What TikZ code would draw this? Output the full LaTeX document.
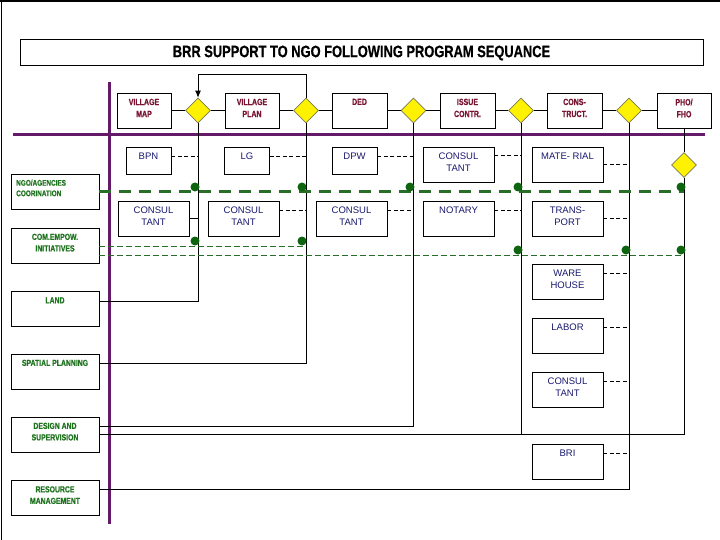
\documentclass[tikz,border=0pt]{standalone}
\usepackage{fontspec}
\setmainfont{Liberation Sans}
\newfontfamily\condfont[FakeStretch=0.78,FakeBold=0.6]{Liberation Sans Bold}
\usetikzlibrary{shapes.geometric,arrows.meta}
\definecolor{cMaroon}{RGB}{120,20,50}
\definecolor{cNavy}{RGB}{25,25,110}
\definecolor{cGreen}{RGB}{30,115,30}
\definecolor{cGLine}{RGB}{40,110,40}
\definecolor{cDot}{RGB}{15,100,15}
\definecolor{cPurple}{RGB}{100,25,105}
\definecolor{cDia}{RGB}{120,120,90}
\newcommand\boxlabel[4][-5.5pt]{\node[#3,anchor=north] at ([yshift=#1]#2.north) {#4};}
\newcommand\hlink[4]{\path ([yshift=#3]#2) coordinate (tmpA);\draw[#1] (tmpA) -- (tmpA -| #4);}
\begin{document}
\begin{tikzpicture}[x=1pt,y=-1pt,
  box/.style 2 args={draw,line width=.9pt,fill=white,inner sep=0pt,minimum width=#1pt,minimum height=#2pt},
  dia/.style={diamond,draw=cDia,fill=yellow,line width=.6pt,minimum width=25pt,minimum height=25pt,inner sep=0pt},
  mtxt/.style={font=\condfont\fontsize{9}{12}\selectfont,text=cMaroon,align=center,inner sep=.5pt},
  btxt/.style={font=\fontsize{9.5}{12}\selectfont,text=cNavy,align=center,inner sep=.5pt},
  gtxt/.style={font=\condfont\fontsize{8.8}{11.5}\selectfont,text=cGreen,align=center,inner sep=.5pt},
  cl/.style={line width=.9pt},
  dl/.style={line width=.8pt,dash pattern=on 4pt off 2.5pt},
  gthick/.style={cGLine,line width=2.6pt,dash pattern=on 12pt off 8pt},
  gthin/.style={cGLine,line width=.8pt,dash pattern=on 6pt off 3pt},
  pline/.style={cPurple,line width=3pt},
  gdot/.style={cDot}]
\useasboundingbox (0,0) rectangle (720,540);
% frame
\draw[line width=1.5pt] (0,0.8) -- (720,0.8);
\draw[line width=1.5pt] (1.5,0) -- (1.5,540);
% title
\node[draw,line width=1pt,minimum width=683pt,minimum height=26pt,inner sep=0pt,
  font=\condfont\fontsize{16.5}{18}\selectfont] (title) at (361.5,53) {BRR SUPPORT TO NGO FOLLOWING PROGRAM SEQUANCE};
% purple axes
\draw[pline] (109,82) -- (109,524);
\draw[pline] (13,134.5) -- (705,134.5);
% top row
\node[box={54}{35}] (vmap) at (144,110.5) {};
\node[dia] (d1) at (198,110.5) {};
\node[box={54}{35}] (vplan) at (252,110.5) {};
\node[dia] (d2) at (306,110.5) {};
\node[box={55}{35}] (ded) at (359.5,110.5) {};
\node[dia] (d3) at (413.5,110.5) {};
\node[box={55}{35}] (issue) at (467.5,110.5) {};
\node[dia] (d4) at (521,110.5) {};
\node[box={55}{35}] (cons) at (574.5,110.5) {};
\node[dia] (d5) at (629,110.5) {};
\node[box={54}{35}] (pho) at (684,110.5) {};
\node[dia] (pd) at (684,165) {};
\boxlabel{vmap}{mtxt}{VILLAGE\\MAP}
\boxlabel{vplan}{mtxt}{VILLAGE\\PLAN}
\boxlabel{ded}{mtxt}{DED}
\boxlabel{issue}{mtxt}{ISSUE\\CONTR.}
\boxlabel{cons}{mtxt}{CONS-\\TRUCT.}
\boxlabel{pho}{mtxt}{PHO/\\FHO}
% second row
\node[box={45}{27}] (bpn) at (148.5,160.5) {};
\node[box={45}{27}] (lg) at (247,160.5) {};
\node[box={45}{27}] (dpw) at (354.5,160.5) {};
\node[box={71}{35}] (con4) at (458.5,164.5) {};
\node[box={71}{35}] (mat) at (567.5,164.5) {};
\boxlabel{bpn}{btxt}{BPN}
\boxlabel{lg}{btxt}{LG}
\boxlabel{dpw}{btxt}{DPW}
\boxlabel{con4}{btxt}{CONSUL\\TANT}
\boxlabel{mat}{btxt}{MATE- RIAL}
% third row
\node[box={71}{35}] (con1) at (153.5,218.5) {};
\node[box={71}{35}] (con2) at (243.5,218.5) {};
\node[box={71}{35}] (con3) at (351.5,218.5) {};
\node[box={71}{35}] (nota) at (458.5,218.5) {};
\node[box={71}{35}] (trans) at (567.5,218.5) {};
\boxlabel{con1}{btxt}{CONSUL\\TANT}
\boxlabel{con2}{btxt}{CONSUL\\TANT}
\boxlabel{con3}{btxt}{CONSUL\\TANT}
\boxlabel{nota}{btxt}{NOTARY}
\boxlabel{trans}{btxt}{TRANS-\\PORT}
% right column
\node[box={71}{35}] (ware) at (567.5,281.5) {};
\node[box={71}{35}] (labor) at (567.5,335.5) {};
\node[box={71}{35}] (con5) at (567.5,389.5) {};
\node[box={71}{35}] (bri) at (567.5,461.5) {};
\boxlabel{ware}{btxt}{WARE\\HOUSE}
\boxlabel{labor}{btxt}{LABOR}
\boxlabel{con5}{btxt}{CONSUL\\TANT}
\boxlabel{bri}{btxt}{BRI}
% left column
\node[box={88}{35}] (ngo) at (55,191.5) {};
\node[box={88}{35}] (com) at (55,245.5) {};
\node[box={88}{35}] (land) at (55,309) {};
\node[box={88}{35}] (spatial) at (55,371.5) {};
\node[box={88}{35}] (design) at (55,434.5) {};
\node[box={88}{35}] (resource) at (55,498) {};
\node[gtxt,font=\condfont\fontsize{8.2}{10.5}\selectfont,align=left,anchor=north west] at ([xshift=5pt,yshift=-5.5pt]ngo.north west) {NGO/AGENCIES\\COORINATION};
\boxlabel{com}{gtxt}{COM.EMPOW.\\INITIATIVES}
\boxlabel{land}{gtxt}{LAND}
\boxlabel{spatial}{gtxt}{SPATIAL PLANNING}
\boxlabel{design}{gtxt}{DESIGN AND\\SUPERVISION}
\boxlabel{resource}{gtxt}{RESOURCE\\MANAGEMENT}
% top row connectors
\draw[cl] (vmap.east) -- (d1.west);
\draw[cl] (d1.east) -- (vplan.west);
\draw[cl] (vplan.east) -- (d2.west);
\draw[cl] (d2.east) -- (ded.west);
\draw[cl] (ded.east) -- (d3.west);
\draw[cl] (d3.east) -- (issue.west);
\draw[cl] (issue.east) -- (d4.west);
\draw[cl] (d4.east) -- (cons.west);
\draw[cl] (cons.east) -- (d5.west);
\draw[cl] (d5.east) -- (pho.west);
\draw[cl,-{Latex[length=7pt,width=6pt]}] (d2.north) -- ++(0,-23) -| (d1.north);
% vertical flows
\draw[cl] (d1.south) |- ([yshift=8pt]land.east);
\draw[cl] (d2.south) |- ([yshift=8.5pt]spatial.east);
\draw[cl] (d3.south) |- ([yshift=8.5pt]design.east);
\draw[cl] (pho.south) -- (pd.north);
\draw[cl] (pd.south) |- (design.east);
\draw[cl] (d4.south) -- (d4.south |- design.east);
\draw[cl] (d5.south) |- ([yshift=9pt]resource.east);
% side links
\hlink{dl}{bpn.east}{4.5pt}{d1.south}
\hlink{dl}{lg.east}{4.5pt}{d2.south}
\hlink{dl}{dpw.east}{4.5pt}{d3.south}
\hlink{dl}{con4.east}{9pt}{d4.south}
\hlink{dl}{mat.east}{0pt}{d5.south}
\hlink{cl}{con1.east}{0pt}{d1.south}
\hlink{dl}{con2.east}{8.5pt}{d2.south}
\hlink{dl}{con3.east}{8.5pt}{d3.south}
\hlink{dl}{nota.east}{8.5pt}{d4.south}
\hlink{dl}{trans.east}{0pt}{d5.south}
\hlink{dl}{ware.east}{8.5pt}{d5.south}
\hlink{dl}{labor.east}{8.5pt}{d5.south}
\hlink{dl}{con5.east}{8.5pt}{d5.south}
\hlink{dl}{bri.east}{8.5pt}{d5.south}
% green coordination lines
\draw[gthick] (ngo.east) -- (ngo.east -| pd.south);
\hlink{gthin}{com.east}{-0.5pt}{d2.south}
\hlink{gthin}{com.east}{-9.5pt}{pd.south}
\foreach \x in {195,302,410,518,681} \fill[gdot] (\x,187) circle (4.5pt);
\foreach \x in {195,302} \fill[gdot] (\x,241) circle (4.5pt);
\foreach \x in {518,626,681} \fill[gdot] (\x,250) circle (4.5pt);
\end{tikzpicture}
\end{document}
